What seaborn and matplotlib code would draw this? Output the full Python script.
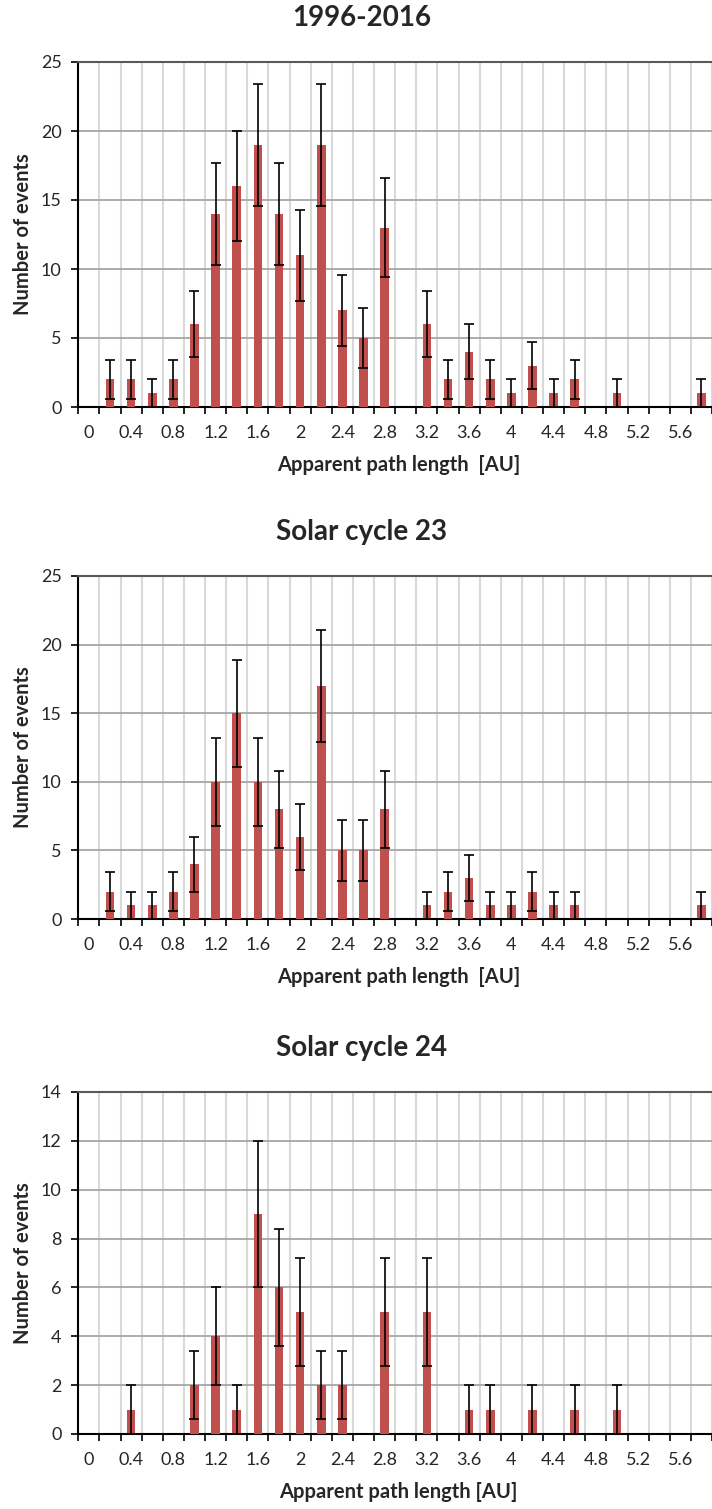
import numpy as np
import pandas as pd
import matplotlib
matplotlib.use("Agg")
import matplotlib.pyplot as plt
import seaborn as sns

# Bin labels (apparent path length, AU) - one category per 0.2 AU
bins = ['0', '0.2', '0.4', '0.6', '0.8', '1', '1.2', '1.4', '1.6', '1.8',
        '2', '2.2', '2.4', '2.6', '2.8', '3', '3.2', '3.4', '3.6', '3.8',
        '4', '4.2', '4.4', '4.6', '4.8', '5', '5.2', '5.4', '5.6', '5.8']
tick_labels = ['0', '0.4', '0.8', '1.2', '1.6', '2', '2.4', '2.8',
               '3.2', '3.6', '4', '4.4', '4.8', '5.2', '5.6']

# Number of events per bin
counts_all = [0, 2, 2, 1, 2, 6, 14, 16, 19, 14, 11, 19, 7, 5, 13,
              0, 6, 2, 4, 2, 1, 3, 1, 2, 0, 1, 0, 0, 0, 1]
counts_sc23 = [0, 2, 1, 1, 2, 4, 10, 15, 10, 8, 6, 17, 5, 5, 8,
               0, 1, 2, 3, 1, 1, 2, 1, 1, 0, 0, 0, 0, 0, 1]
counts_sc24 = [0, 0, 1, 0, 0, 2, 4, 1, 9, 6, 5, 2, 2, 0, 5,
               0, 5, 0, 1, 1, 0, 1, 0, 1, 0, 1, 0, 0, 0, 0]

# Error bars
err_all = [0, 1.4, 1.4, 1, 1.4, 2.4, 3.7, 4, 4.4, 3.7, 3.3, 4.4, 2.6, 2.2, 3.6,
           0, 2.4, 1.4, 2, 1.4, 1, 1.7, 1, 1.4, 0, 1, 0, 0, 0, 1]
err_sc23 = [0, 1.4, 1, 1, 1.4, 2, 3.2, 3.9, 3.2, 2.8, 2.4, 4.1, 2.2, 2.2, 2.8,
            0, 1, 1.4, 1.7, 1, 1, 1.4, 1, 1, 0, 0, 0, 0, 0, 1]
err_sc24 = [0, 0, 1, 0, 0, 1.4, 2, 1, 3, 2.4, 2.2, 1.4, 1.4, 0, 2.2,
            0, 2.2, 0, 1, 1, 0, 1, 0, 1, 0, 1, 0, 0, 0, 0]

titles = ['1996-2016', 'Solar cycle 23', 'Solar cycle 24']
xlabels = ['Apparent path length  [AU]', 'Apparent path length  [AU]',
           'Apparent path length [AU]']
ymax = [25, 25, 14]
ystep = [5, 5, 2]

sns.set_style("white")
plt.rcParams['font.family'] = ['Lato', 'DejaVu Sans']

W, H = 712, 1509
fig = plt.figure(figsize=(W / 100, H / 100), dpi=100)

# (top, bottom) of each plot area in pixels
boxes = [(62, 407), (576, 919), (1092, 1434)]
left_px = 78.3
bar_color = '#c0504d'

panels = [(counts_all, err_all), (counts_sc23, err_sc23), (counts_sc24, err_sc24)]

for i, (counts, errs) in enumerate(panels):
    top, bot = boxes[i]
    ax = fig.add_axes([left_px / W, 1 - bot / H, 1 - left_px / W, (bot - top) / H])
    df = pd.DataFrame({'bin': bins, 'count': counts})
    sns.barplot(data=df, x='bin', y='count', order=bins, color=bar_color,
                saturation=1, width=0.41, errorbar=None, ax=ax, zorder=3,
                linewidth=0)
    ax.errorbar(np.arange(len(bins)), counts, yerr=errs, fmt='none',
                ecolor='black', elinewidth=1.2, capsize=3.4, capthick=1.2, zorder=4)

    ax.set_xlim(-0.5, 29.2)
    ax.set_ylim(0, ymax[i])
    ax.set_yticks(np.arange(0, ymax[i] + 0.1, ystep[i]))
    ax.set_xticks(np.arange(0, 30, 2))
    ax.set_xticklabels(tick_labels)
    ax.set_xticks(np.arange(-0.5, 30, 1), minor=True)

    ax.set_axisbelow(True)
    ax.grid(False)
    ax.grid(which='minor', axis='x', color='#d9d9d9', lw=1.5, zorder=0)
    ax.grid(which='major', axis='y', color='#a6a6a6', lw=1.3, zorder=0)

    ax.tick_params(axis='x', which='major', length=0, pad=13, labelsize=13,
                   labelcolor='#262626')
    ax.tick_params(axis='x', which='minor', length=5, width=1.2, color='black',
                   bottom=True)
    ax.tick_params(axis='y', which='major', length=5, width=1.2, color='black',
                   left=True, pad=7, labelsize=13, labelcolor='#262626')

    for side in ['left', 'bottom']:
        ax.spines[side].set_color('black')
        ax.spines[side].set_linewidth(1.5)
    ax.spines['top'].set_color('#595959')
    ax.spines['top'].set_linewidth(1.5)
    ax.spines['right'].set_visible(False)

    ax.set_xlabel(xlabels[i], fontsize=14.5, fontweight='bold')
    ax.xaxis.set_label_coords(0.505, -0.14)
    ax.set_ylabel('Number of events', fontsize=14.5, fontweight='bold')
    ax.yaxis.set_label_coords(-0.072, 0.5)

    fig.text(0.508, 1 - (top - 44) / H, titles[i], ha='center', va='center',
             fontsize=20, fontweight='bold')

fig.savefig('out.png', dpi=100)
